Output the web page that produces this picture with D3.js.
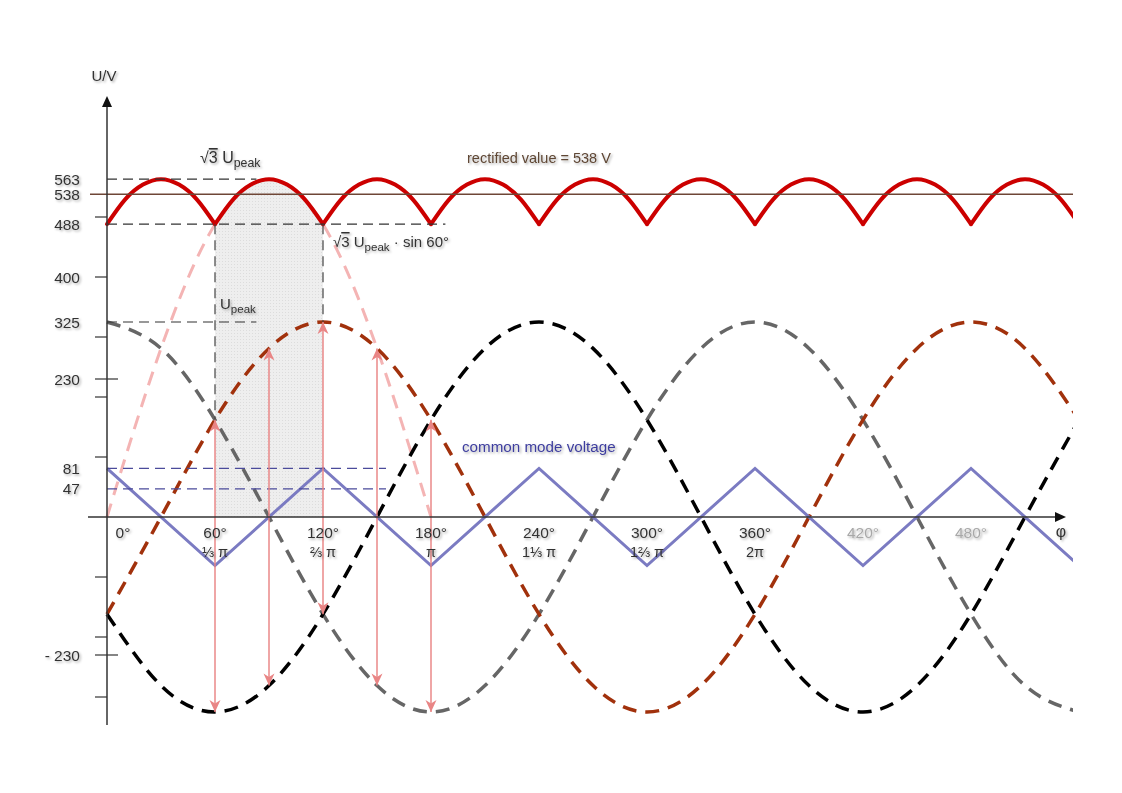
<!DOCTYPE html>
<html><head><meta charset="utf-8">
<script src="https://cdn.jsdelivr.net/npm/d3@7"></script>
<style>
body{margin:0;background:#fff}
svg{display:block}
text{font-family:"Liberation Sans",Arial,Helvetica,sans-serif}
</style>
</head><body>
<svg id="chart" width="1122" height="793"></svg>
<script>
// ---------- data ----------
const phaseDeg   = [0,30,60,90,120,150,180,210,240,270,300,330,360,390,420,450,480,510,540];
const phaseBrown = [-162,0,162,281,325,281,162,0,-162,-281,-325,-281,-162,0,162,281,325,281,162];
const phaseBlack = [-162,-281,-325,-281,-162,0,162,281,325,281,162,0,-162,-281,-325,-281,-162,0,162];
const phaseGray  = [325,281,162,0,-162,-281,-325,-281,-162,0,162,281,325,281,162,0,-162,-281,-325];

const envelopeDeg    = [0,30,60,90,120,150,180];
const envelopeValues = [0,281,488,563,488,281,0];

const rectCuspDeg   = [0,60,120,180,240,300,360,420,480];
const rectArcOffset = [0,10,20,30,40,50,60];
const rectArcValues = [488,529,554,563,554,529,488];
const rectifiedValue = 538;

const commonDeg    = [0,60,120,180,240,300,360,420,480,540];
const commonValues = [81,-81,81,-81,81,-81,81,-81,81,-81];

const arrowDeg    = [60,90,120,150,180];
const arrowTop    = [162,281,325,281,162];
const arrowBottom = [-325,-281,-162,-281,-325];

const yLabelValues = [563,538,488,400,325,230,81,47,-230];
const yLabelTexts  = ["563","538","488","400","325","230","81","47","- 230"];
const yLongTicks   = [230,-230];
const yMinorTicks  = [500,400,300,200,100,-100,-200,-300];

const xTickDeg       = [0,60,120,180,240,300,360,420,480];
const xTickDegLabels = ["0°","60°","120°","180°","240°","300°","360°","420°","480°"];
const xTickPiLabels  = ["","⅓ π","⅔ π","π","1⅓ π","1⅔ π","2π","",""];
const xTickFaded     = [false,false,false,false,false,false,false,true,true];

// guide lines
const guideBlackValue = [563,488,325];
const guideBlackTo    = [83,188,83];
const guideBlueValue  = [81,47];
const guideBlueTo     = [155,155];
const guideVertDeg    = [60,120];
const guideVertFrom   = [488,488];
const guideVertTo     = [162,325];

// ---------- layout ----------
const svg = d3.select("#chart");
const x = d3.scaleLinear().domain([0,480]).range([107,971]);
const y = d3.scaleLinear().domain([-325,563]).range([712,179.2]);

const defs = svg.append("defs");
defs.append("clipPath").attr("id","clipR").append("rect")
  .attr("x",0).attr("y",0).attr("width",1073).attr("height",793);
const f = defs.append("filter").attr("id","ts").attr("x","-20%").attr("y","-40%").attr("width","150%").attr("height","200%");
f.append("feDropShadow").attr("dx",1.5).attr("dy",1.5).attr("stdDeviation",1.3)
  .attr("flood-color","#000").attr("flood-opacity",0.32);
defs.append("marker").attr("id","arr").attr("viewBox","-1 -7 14 14")
  .attr("refX",12).attr("refY",0).attr("markerWidth",14).attr("markerHeight",14)
  .attr("markerUnits","userSpaceOnUse").attr("orient","auto-start-reverse")
  .append("path").attr("d","M0,-5.5L12,0L0,5.5L3.5,0Z").attr("fill","#e98585");

const pat = defs.append("pattern").attr("id","dots").attr("width",3).attr("height",3).attr("patternUnits","userSpaceOnUse");
pat.append("rect").attr("width",3).attr("height",3).attr("fill","#eeeeee");
pat.append("rect").attr("width",1).attr("height",1).attr("fill","#dcdcdc");

// shaded region 60°..120° under the rectified arc
const shadeData = rectArcOffset.map((o,i)=>({d:60+o, v:rectArcValues[i]}));
svg.append("path").datum(shadeData)
  .attr("d", d3.area().x(p=>x(p.d)).y0(y(0)).y1(p=>y(p.v)).curve(d3.curveNatural))
  .attr("fill","url(#dots)");

const plot = svg.append("g").attr("clip-path","url(#clipR)");
const line = d3.line().x(p=>x(p.d)).y(p=>y(p.v)).curve(d3.curveNatural);

// pink envelope
plot.append("path").datum(envelopeDeg.map((d,i)=>({d, v:envelopeValues[i]})))
  .attr("d",line).attr("fill","none").attr("stroke","#f4b4b4").attr("stroke-width",3)
  .attr("stroke-dasharray","14,9");

// guide lines
guideBlackValue.forEach((v,i)=>{
  svg.append("line").attr("x1",x(0)).attr("x2",x(guideBlackTo[i])).attr("y1",y(v)).attr("y2",y(v))
    .attr("stroke","#333").attr("stroke-width",1.2).attr("stroke-dasharray","10,6");
});
guideVertDeg.forEach((d,i)=>{
  svg.append("line").attr("x1",x(d)).attr("x2",x(d)).attr("y1",y(guideVertFrom[i])).attr("y2",y(guideVertTo[i]))
    .attr("stroke","#444").attr("stroke-width",1.2).attr("stroke-dasharray","10,6");
});
guideBlueValue.forEach((v,i)=>{
  svg.append("line").attr("x1",x(0)).attr("x2",x(guideBlueTo[i])).attr("y1",y(v)).attr("y2",y(v))
    .attr("stroke","#4b4b9b").attr("stroke-width",1.2).attr("stroke-dasharray","10,6");
});

// phase voltages
const phases = [
  {vals:phaseGray,  col:"#666666"},
  {vals:phaseBrown, col:"#a1310c"},
  {vals:phaseBlack, col:"#000000"}
];
phases.forEach(ph=>{
  plot.append("path").datum(phaseDeg.map((d,i)=>({d, v:ph.vals[i]})))
    .attr("d",line).attr("fill","none").attr("stroke",ph.col).attr("stroke-width",3.5)
    .attr("stroke-dasharray","14,9");
});

// common mode voltage
plot.append("path").datum(commonDeg.map((d,i)=>({d, v:commonValues[i]})))
  .attr("d", d3.line().x(p=>x(p.d)).y(p=>y(p.v)))
  .attr("fill","none").attr("stroke","#7b7bc2").attr("stroke-width",3);

// rectified voltage
rectCuspDeg.forEach(c=>{
  plot.append("path").datum(rectArcOffset.map((o,i)=>({d:c+o, v:rectArcValues[i]})))
    .attr("d",line).attr("fill","none").attr("stroke","#cc0000").attr("stroke-width",4)
    .attr("stroke-linecap","round");
});

// rectified value line
svg.append("line").attr("x1",90).attr("x2",1073).attr("y1",y(rectifiedValue)).attr("y2",y(rectifiedValue))
  .attr("stroke","#6e4636").attr("stroke-width",1.5);

// line-to-line arrows
arrowDeg.forEach((d,i)=>{
  svg.append("line").attr("x1",x(d)).attr("x2",x(d)).attr("y1",y(arrowTop[i])).attr("y2",y(arrowBottom[i]))
    .attr("stroke","#e88080").attr("stroke-width",1.4)
    .attr("marker-start","url(#arr)").attr("marker-end","url(#arr)");
});

// axes
const axG = svg.append("g");
axG.append("line").attr("x1",x(0)).attr("x2",x(0)).attr("y1",725).attr("y2",104)
  .attr("stroke","#333").attr("stroke-width",1.5);
axG.append("path").attr("d",`M${x(0)},96L${x(0)-5},107L${x(0)+5},107Z`).attr("fill","#111");
axG.append("line").attr("x1",88).attr("x2",1058).attr("y1",y(0)).attr("y2",y(0))
  .attr("stroke","#333").attr("stroke-width",1.5);
axG.append("path").attr("d",`M1066,${y(0)}L1055,${y(0)-5}L1055,${y(0)+5}Z`).attr("fill","#111");

yMinorTicks.forEach(v=>{
  axG.append("line").attr("x1",95).attr("x2",x(0)).attr("y1",y(v)).attr("y2",y(v))
    .attr("stroke","#333").attr("stroke-width",1.2);
});
yLongTicks.forEach(v=>{
  axG.append("line").attr("x1",95).attr("x2",118).attr("y1",y(v)).attr("y2",y(v))
    .attr("stroke","#333").attr("stroke-width",1.2);
});

const T = svg.append("g").attr("filter","url(#ts)").attr("font-size",15.5).attr("fill","#333");
yLabelValues.forEach((v,i)=>{
  T.append("text").attr("x",80).attr("y",y(v)+5.5).attr("text-anchor","end").text(yLabelTexts[i]);
});
xTickDeg.forEach((d,i)=>{
  const cx = d===0 ? x(d)+16 : x(d);
  T.append("text").attr("x",cx).attr("y",y(0)+21).attr("text-anchor","middle")
    .attr("fill", xTickFaded[i] ? "#a8a8a8" : "#333").text(xTickDegLabels[i]);
  if (xTickPiLabels[i]) T.append("text").attr("x",cx).attr("y",y(0)+40).attr("text-anchor","middle")
    .attr("font-size",14.5).text(xTickPiLabels[i]);
});
T.append("text").attr("x",104).attr("y",81).attr("text-anchor","middle").attr("font-size",15).text("U/V");
T.append("text").attr("x",1061).attr("y",537).attr("text-anchor","middle").attr("font-size",16).text("φ");

function sqrt3Label(g, x0, y0, tail, fs){
  const t = g.append("text").attr("x",x0).attr("y",y0).attr("font-size",fs);
  t.append("tspan").text("√");
  t.append("tspan").attr("text-decoration","overline").text("3");
  t.append("tspan").text(" U");
  t.append("tspan").attr("font-size",fs*0.77).attr("dy",4).text("peak");
  if (tail) t.append("tspan").attr("dy",-4).text(tail);
}
sqrt3Label(T, 200, 163, null, 16);
sqrt3Label(T, 333, 247, "  · sin 60°", 15);
const up = T.append("text").attr("x",220).attr("y",309).attr("font-size",15);
up.append("tspan").text("U");
up.append("tspan").attr("font-size",11.5).attr("dy",4).text("peak");

T.append("text").attr("x",467).attr("y",163).attr("fill","#5e4634").attr("font-size",14.5).text("rectified value = 538 V");
T.append("text").attr("x",462).attr("y",452).attr("fill","#3e3e9e").attr("font-size",15.2).text("common mode voltage");
</script>
</body></html>
